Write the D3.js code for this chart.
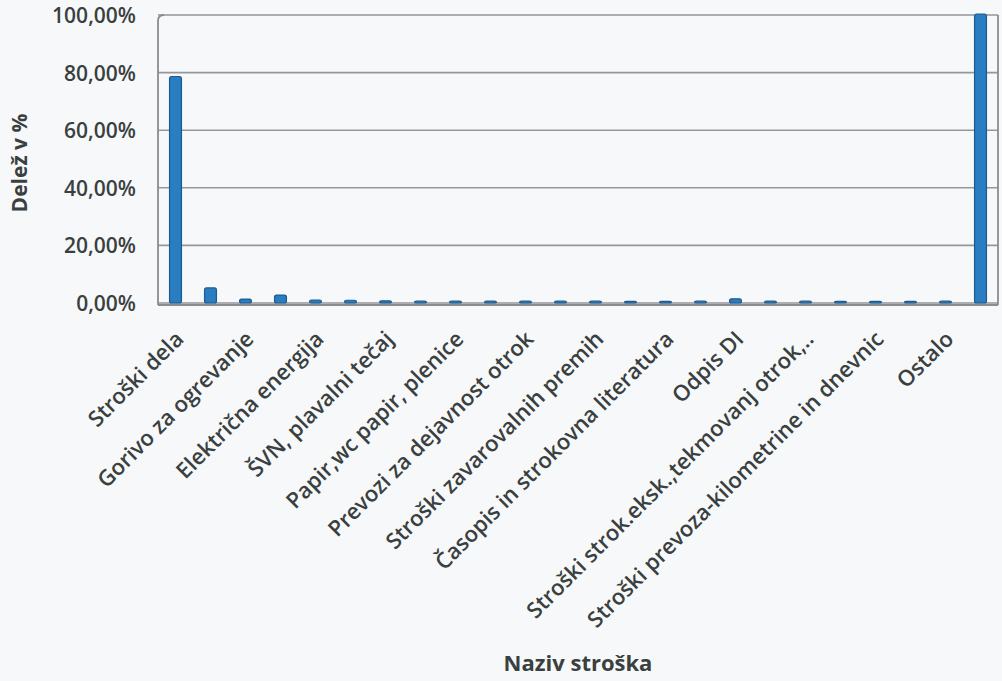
<!DOCTYPE html>
<html>
<head>
<meta charset="utf-8">
<script src="https://cdn.jsdelivr.net/npm/d3@7"></script>
<style>
  body { margin: 0; background: #f6f8f9; }
  svg { display: block; font-family: "Open Sans", sans-serif; }
</style>
</head>
<body>
<svg></svg>
<script>
// Categories (only every other name is printed on the axis; unknown names are null)
const categories = [
  "Stroški dela", null, "Gorivo za ogrevanje", null, "Električna energija", null,
  "ŠVN, plavalni tečaj", null, "Papir,wc papir, plenice", null, "Prevozi za dejavnost otrok", null,
  "Stroški zavarovalnih premih", null, "Časopis in strokovna literatura", null, "Odpis DI", null,
  "Stroški strok.eksk.,tekmovanj otrok,..", null, "Stroški prevoza-kilometrine in dnevnic", null,
  "Ostalo", null
];
// Share in percent
const shares = [
  78.3, 4.9, 1.0, 2.4, 0.7, 0.6, 0.4, 0.3, 0.3, 0.3, 0.3, 0.3,
  0.3, 0.2, 0.2, 0.3, 1.1, 0.3, 0.3, 0.2, 0.2, 0.2, 0.3, 100
];
const yTicks = [0, 20, 40, 60, 80, 100];

const width = 1002;
const height = 681;
const margin = { top: 15, right: 4, bottom: 378, left: 158 };

const svg = d3.select("svg")
  .attr("width", width)
  .attr("height", height);

const chartWidth = width - margin.left - margin.right;
const chartHeight = height - margin.top - margin.bottom;

const chart = svg.append("g")
  .attr("transform", `translate(${margin.left}, ${margin.top})`);

const idx = d3.range(categories.length);

// Scales
const x = d3.scaleBand()
  .domain(idx)
  .range([0, 840])
  .paddingInner(0.66)
  .paddingOuter(0.33);

const y = d3.scaleLinear()
  .domain([0, 100])
  .range([chartHeight, 0]);

const fmt = v => v.toFixed(2).replace(".", ",") + "%";

// Gridlines
chart.append("g")
  .selectAll("line")
  .data(yTicks)
  .enter()
  .append("line")
  .attr("x1", 0)
  .attr("x2", chartWidth)
  .attr("y1", d => y(d))
  .attr("y2", d => y(d))
  .attr("stroke", "#949698")
  .attr("stroke-width", 1.6);

// Plot border
chart.append("path")
  .attr("d", `M0,${chartHeight + 2} L0,6 Q0,0 6,0 M${chartWidth},0 L${chartWidth},${chartHeight + 2}`)
  .attr("fill", "none")
  .attr("stroke", "#8a8c8e")
  .attr("stroke-width", 1.8);

// Y axis
const yAxis = chart.append("g")
  .call(d3.axisLeft(y).tickValues(yTicks).tickFormat(fmt).tickSize(0).tickPadding(22));
yAxis.select(".domain").remove();
yAxis.selectAll("text")
  .attr("font-size", 21)
  .attr("font-weight", 600)
  .attr("fill", "#3a3f40")
  .attr("font-family", "Open Sans, sans-serif")
  .attr("dy", "0.36em");

// Bars
chart.selectAll(".bar")
  .data(shares)
  .enter()
  .append("rect")
  .attr("class", "bar")
  .attr("x", (d, i) => x(i))
  .attr("y", d => y(d) - 1)
  .attr("width", x.bandwidth())
  .attr("height", d => chartHeight - y(d) + 1)
  .attr("rx", 2)
  .attr("fill", "#2a7dc0")
  .attr("stroke", "#1c5a92")
  .attr("stroke-width", 1.2);

// Floor
chart.append("line")
  .attr("x1", 0)
  .attr("x2", chartWidth)
  .attr("y1", chartHeight + 2)
  .attr("y2", chartHeight + 2)
  .attr("stroke", "#8a8c8e")
  .attr("stroke-width", 2);

// X axis
const xAxis = chart.append("g")
  .attr("transform", `translate(0, ${chartHeight})`)
  .call(d3.axisBottom(x).tickSize(0).tickFormat(i => categories[i] || ""));
xAxis.select(".domain").remove();
xAxis.selectAll("text")
  .attr("font-size", 22)
  .attr("font-weight", 600)
  .attr("fill", "#3a3f40")
  .attr("font-family", "Open Sans, sans-serif")
  .attr("text-anchor", "end")
  .attr("transform", "translate(4, 32) rotate(-45)")
  .attr("dy", "0.35em")
  .attr("y", 0);

// Labels
svg.append("text")
  .attr("x", margin.left + chartWidth / 2)
  .attr("y", 671)
  .attr("text-anchor", "middle")
  .attr("font-size", 22)
  .attr("font-weight", "bold")
  .attr("fill", "#3a3f40")
  .text("Naziv stroška");

svg.append("text")
  .attr("x", -(margin.top + chartHeight / 2) - 4)
  .attr("y", 27)
  .attr("text-anchor", "middle")
  .attr("transform", "rotate(-90)")
  .attr("font-size", 21)
  .attr("font-weight", "bold")
  .attr("fill", "#3a3f40")
  .text("Delež v %");
</script>
</body>
</html>
